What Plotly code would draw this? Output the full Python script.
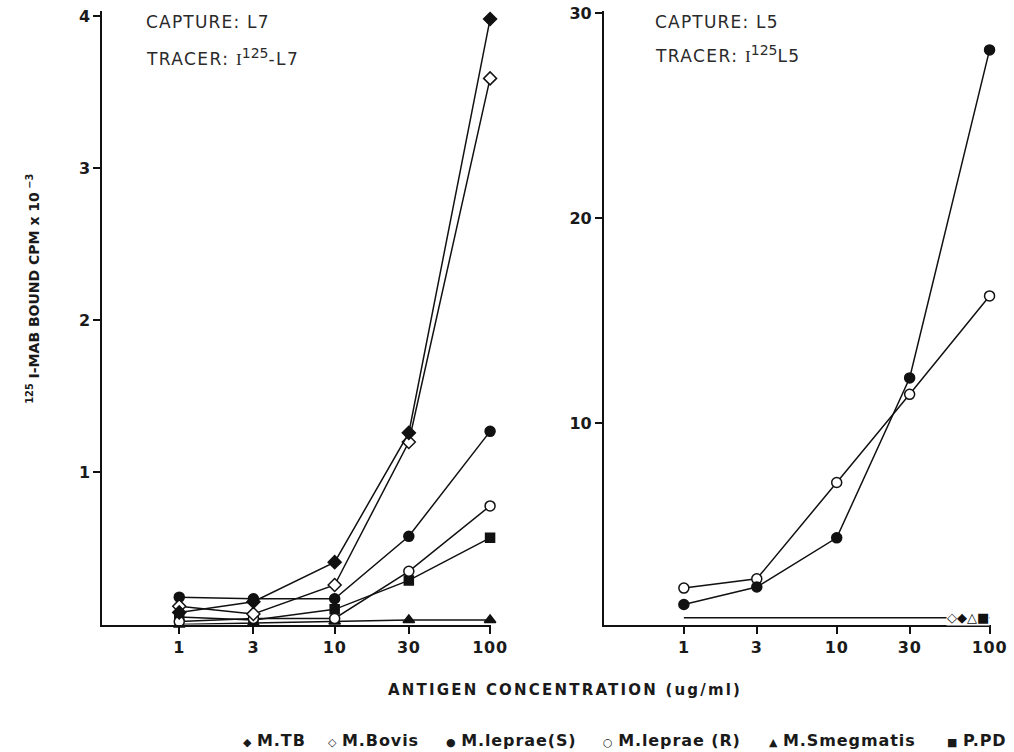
import plotly.graph_objects as go

conc = [1, 3, 10, 30, 100]
tick_labels = ["1", "3", "10", "30", "100"]

# Left panel: capture L7, tracer I125-L7  (CPM x 10^-3)
l7_mtb = [0.08, 0.15, 0.41, 1.26, 3.98]
l7_mbovis = [0.12, 0.07, 0.26, 1.20, 3.59]
l7_lepraeS = [0.18, 0.17, 0.17, 0.58, 1.27]
l7_lepraeR = [0.02, 0.04, 0.04, 0.35, 0.78]
l7_smeg = [0.00, 0.01, 0.02, 0.03, 0.03]
l7_ppd = [0.05, 0.03, 0.10, 0.29, 0.57]
left_yticks = [1, 2, 3, 4]

# Right panel: capture L5, tracer I125 L5
l5_lepraeS = [1.15, 2.0, 4.4, 12.2, 28.2]
l5_lepraeR = [1.95, 2.4, 7.1, 11.4, 16.2]
l5_others = [0.5, 0.5, 0.5, 0.5, 0.5]  # M.TB, M.Bovis, M.Smegmatis, P.PD
right_yticks = [10, 20, 30]

legend_names = ["M.TB", "M.Bovis", "M.leprae(S)", "M.leprae (R)", "M.Smegmatis", "P.PD"]
legend_glyphs = ["◆", "◇", "●", "○", "▲", "■"]

BLACK = "#111111"
TXT = "#1a1a1a"
FONT = "DejaVu Sans, Verdana, sans-serif"


def spaced(s, sp):
    return "<span style='letter-spacing:%spx'>%s</span>" % (sp, s)


styles = {
    "M.TB": dict(symbol="diamond", color=BLACK, size=10),
    "M.Bovis": dict(symbol="diamond", color="white", size=10),
    "M.leprae(S)": dict(symbol="circle", color=BLACK, size=10),
    "M.leprae (R)": dict(symbol="circle", color="white", size=10),
    "M.Smegmatis": dict(symbol="triangle-up", color=BLACK, size=10),
    "P.PD": dict(symbol="square", color=BLACK, size=9),
}

fig = go.Figure()

left_series = [l7_smeg, l7_ppd, l7_lepraeR, l7_lepraeS, l7_mbovis, l7_mtb]
left_names = ["M.Smegmatis", "P.PD", "M.leprae (R)", "M.leprae(S)", "M.Bovis", "M.TB"]
for vals, nm in zip(left_series, left_names):
    st = styles[nm]
    fig.add_trace(go.Scatter(
        x=conc, y=vals, mode="lines+markers", name=nm, showlegend=False,
        cliponaxis=False,
        line=dict(color=BLACK, width=1.5),
        marker=dict(symbol=st["symbol"], size=st["size"], color=st["color"],
                    line=dict(color=BLACK, width=1.5)),
        xaxis="x", yaxis="y"))

fig.add_trace(go.Scatter(
    x=conc, y=l5_others, mode="lines", showlegend=False, cliponaxis=False,
    line=dict(color=BLACK, width=1.5), xaxis="x2", yaxis="y2"))
for vals, nm in [(l5_lepraeR, "M.leprae (R)"), (l5_lepraeS, "M.leprae(S)")]:
    st = styles[nm]
    fig.add_trace(go.Scatter(
        x=conc, y=vals, mode="lines+markers", name=nm, showlegend=False,
        cliponaxis=False,
        line=dict(color=BLACK, width=1.5),
        marker=dict(symbol=st["symbol"], size=st["size"], color=st["color"],
                    line=dict(color=BLACK, width=1.5)),
        xaxis="x2", yaxis="y2"))

W, H = 1014, 752
# calibration of figure pixels to the photographed picture
SX, BX = 0.984, -1.4
SY, BY = 0.993, 6.0


def px(x):
    return ((x - BX) / SX) / W


def py(y):
    return 1 - ((y - BY) / SY) / H


tick_text = [spaced(t, 0.8) for t in tick_labels]
common_x = dict(type="log", tickvals=conc, ticktext=tick_text, ticks="outside",
                ticklen=7, tickwidth=2, tickcolor=BLACK, showline=True, linecolor=BLACK,
                linewidth=2, showgrid=False, zeroline=False, ticklabeloverflow="allow",
                tickfont=dict(family=FONT, size=16, color=TXT, weight="bold"))
common_y = dict(ticks="outside", ticklen=7, tickwidth=2, tickcolor=BLACK, showline=True,
                linecolor=BLACK, linewidth=2, showgrid=False, zeroline=False,
                ticklabeloverflow="allow",
                tickfont=dict(family=FONT, size=16, color=TXT, weight="bold"))

fig.update_layout(
    width=W, height=H, margin=dict(l=0, r=0, t=0, b=0),
    plot_bgcolor="white", paper_bgcolor="white",
    xaxis=dict(common_x, domain=[px(101), px(490)], range=[-0.495, 2.006], anchor="y"),
    yaxis=dict(common_y, domain=[py(625), py(10)], range=[0, 4.033],
               tickvals=left_yticks, ticktext=[str(v) for v in left_yticks],
               anchor="x"),
    xaxis2=dict(common_x, domain=[px(603), px(990)], range=[-0.523, 2.007], anchor="y2"),
    yaxis2=dict(common_y, domain=[py(625), py(10)], range=[0.17, 30.1],
                tickvals=right_yticks, ticktext=[str(v) for v in right_yticks],
                anchor="x2"),
)

ann_font = dict(family=FONT, size=17, color="#2a2a2a")
serif_I = "<span style='font-family:Liberation Serif, serif'>I</span>"
sup125 = "<sup><span style='font-size:14px'>125</span></sup>"
annotations = [
    dict(text=spaced("CAPTURE: L7", 1.2), x=px(143), y=py(21)),
    dict(text=spaced("TRACER: ", 1.4) + serif_I + sup125 + spaced("-L7", 1.4),
         x=px(143), y=py(56)),
    dict(text=spaced("CAPTURE: L5", 1.2), x=px(652), y=py(21)),
    dict(text=spaced("TRACER: ", 1.4) + serif_I + sup125 + spaced("L5", 1.4),
         x=px(652), y=py(53)),
]
for a in annotations:
    fig.add_annotation(xref="paper", yref="paper", showarrow=False, font=ann_font,
                       xanchor="left", yanchor="middle", **a)

# cluster of symbols at the end of the flat line in the right panel
fig.add_annotation(xref="x2", yref="y2", x=2.0, y=l5_others[-1], text="◇◆△■",
                   showarrow=False, xanchor="right", yanchor="middle",
                   bgcolor="white", font=dict(family="DejaVu Sans", size=13, color=BLACK),
                   borderpad=0)

fig.add_annotation(xref="paper", yref="paper", x=px(21), y=py(288), textangle=-90,
                   text="<sup>125</sup> I-MAB BOUND CPM x 10<sup> −3</sup>", showarrow=False,
                   font=dict(family=FONT, size=14, color=TXT, weight="bold"))

fig.add_annotation(xref="paper", yref="paper", x=px(564), y=py(691),
                   xanchor="center", yanchor="middle",
                   text=spaced("ANTIGEN CONCENTRATION (ug/ml)", 2.2), showarrow=False,
                   font=dict(family=FONT, size=15, color=TXT, weight="bold"))

legend_x = [240, 325, 443, 600, 766, 944]
for gx, glyph, nm in zip(legend_x, legend_glyphs, legend_names):
    fig.add_annotation(xref="paper", yref="paper", x=px(gx), y=py(741),
                       xanchor="left", yanchor="middle", showarrow=False,
                       text="<span style='font-size:11px'>" + glyph + "</span> " + spaced(nm, 0.9),
                       font=dict(family=FONT, size=16, color=TXT, weight="bold"))

fig.write_html(
    "out.html",
    config={"displayModeBar": False},
    post_script=("document.body.style.margin='0';"
                 "document.body.style.overflow='hidden';"
                 "document.documentElement.style.overflow='hidden';"),
)
